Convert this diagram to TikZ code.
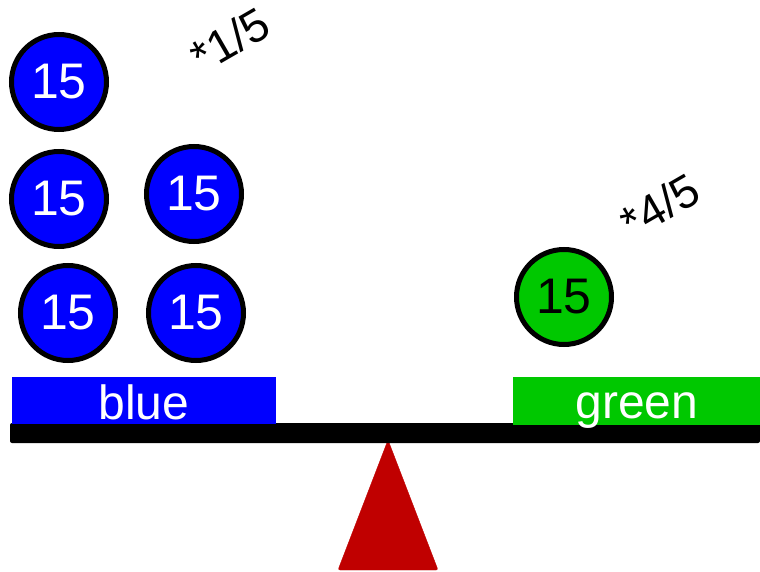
\documentclass[tikz,border=0pt]{standalone}
\usepackage{fontspec}
\setmainfont{Liberation Sans}
\definecolor{myblue}{RGB}{0,0,255}
\definecolor{mygreen}{RGB}{0,200,0}
\definecolor{myred}{RGB}{192,0,0}
\begin{document}
\begin{tikzpicture}[x=1pt,y=-1pt,
  ball/.style={circle,draw=black,line width=5pt,minimum size=95pt,inner sep=0pt,font=\fontsize{50}{50}\selectfont},
  blueball/.style={ball,fill=myblue,text=white},
  greenball/.style={ball,fill=mygreen,text=black},
  pan/.style={font=\fontsize{48}{48}\selectfont,text=white,inner sep=0pt,anchor=base},
  factor/.style={font=\fontsize{46}{46}\selectfont,rotate=30,inner sep=0pt}]
\useasboundingbox (0,0) rectangle (760,572);
% fulcrum
\filldraw[myred,rounded corners=2pt] (338,570) -- (388,440) -- (438,570) -- cycle;
% beam
\fill[black,rounded corners=2pt] (10,423) rectangle (760,443);
% pans
\fill[myblue] (12,377) rectangle (276,424);
\node[pan] (bluelabel) at (144,419) {blue};
\fill[mygreen] (513,377) rectangle (760,425);
\node[pan] (greenlabel) at (637,418) {green};
% balls
\node[blueball] (b1) at (59,82) {15};
\node[blueball] (b2) at (59,199) {15};
\node[blueball] (b3) at (194,194) {15};
\node[blueball] (b4) at (68,313) {15};
\node[blueball] (b5) at (196,313) {15};
\node[greenball] (g1) at (564,297) {15};
% factors
\node[factor] (f1) at (230,40) {*1/5};
\node[factor] (f2) at (660,206) {*4/5};
\end{tikzpicture}
\end{document}
